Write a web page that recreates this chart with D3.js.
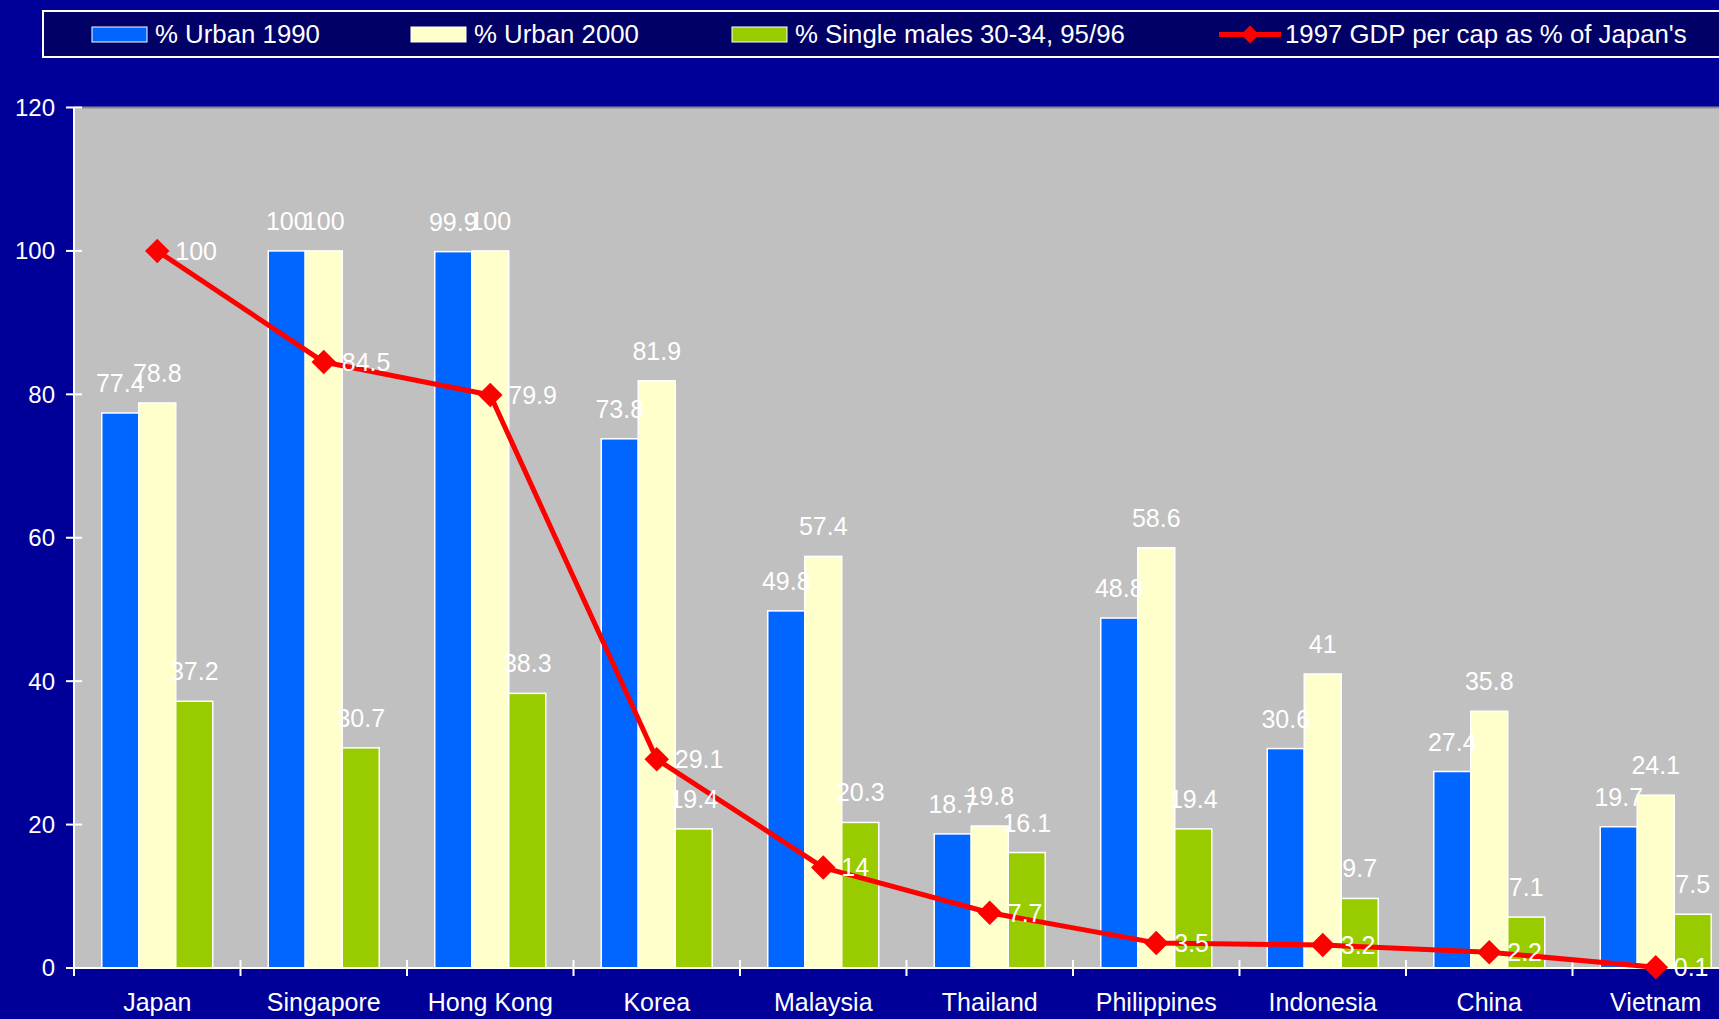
<!DOCTYPE html>
<html>
<head>
<meta charset="UTF-8">
<title>Urbanisation and GDP</title>
<script src="https://d3js.org/d3.v7.min.js"></script>
<style>
  body { margin: 0; padding: 0; overflow: hidden; background: #000099; }
  svg { display: block; font-family: "Liberation Sans", Arial, sans-serif; }
</style>
</head>
<body>
<svg id="chart" width="1719" height="1019"></svg>
<script>
// data
const countries = ["Japan", "Singapore", "Hong Kong", "Korea", "Malaysia", "Thailand", "Philippines", "Indonesia", "China", "Vietnam"];
const urban1990 = [77.4, 100, 99.9, 73.8, 49.8, 18.7, 48.8, 30.6, 27.4, 19.7];
const urban2000 = [78.8, 100, 100, 81.9, 57.4, 19.8, 58.6, 41, 35.8, 24.1];
const singleMales = [37.2, 30.7, 38.3, 19.4, 20.3, 16.1, 19.4, 9.7, 7.1, 7.5];
const gdpShare = [100, 84.5, 79.9, 29.1, 14, 7.7, 3.5, 3.2, 2.2, 0.1];
const yTicks = [0, 20, 40, 60, 80, 100, 120];

const barSeries = [
  { name: "% Urban 1990", values: urban1990, color: "#0066ff" },
  { name: "% Urban 2000", values: urban2000, color: "#ffffcc" },
  { name: "% Single males 30-34, 95/96", values: singleMales, color: "#99cc00" }
];
const lineName = "1997 GDP per cap as % of Japan's";

const svg = d3.select("#chart");
const plotL = 74, plotR = 1739, plotT = 107.5, plotB = 968;

const x = d3.scaleBand().domain(countries).range([plotL, plotR]).padding(0);
const bw = x.bandwidth();
const barW = bw / 4.5;
const inner = d3.scaleBand().domain(d3.range(3))
    .range([(bw - 3 * barW) / 2, (bw + 3 * barW) / 2]).padding(0);
const y = d3.scaleLinear().domain([0, 120]).range([plotB, plotT]);

// background
svg.append("rect").attr("width", 1719).attr("height", 1019).attr("fill", "#000099");

// plot area
svg.append("rect")
    .attr("x", plotL).attr("y", plotT)
    .attr("width", plotR - plotL).attr("height", plotB - plotT)
    .attr("fill", "#c0c0c0");
svg.append("line")
    .attr("x1", plotL).attr("x2", plotR).attr("y1", plotT).attr("y2", plotT)
    .attr("stroke", "#8a8a8a").attr("stroke-width", 2);

// bars
barSeries.forEach((s, si) => {
  svg.append("g").selectAll("rect")
    .data(countries)
    .join("rect")
      .attr("x", (c) => x(c) + inner(si))
      .attr("y", (c, i) => y(s.values[i]))
      .attr("width", inner.bandwidth())
      .attr("height", (c, i) => y(0) - y(s.values[i]))
      .attr("fill", s.color)
      .attr("stroke", "white")
      .attr("stroke-width", 1.5);
});

// axes
const yAxis = svg.append("g");
yAxis.append("line")
    .attr("x1", plotL).attr("x2", plotL).attr("y1", plotT).attr("y2", plotB)
    .attr("stroke", "white").attr("stroke-width", 2);
yAxis.selectAll("line.tk")
  .data(yTicks)
  .join("line")
    .attr("class", "tk")
    .attr("x1", plotL - 8).attr("x2", plotL + 8)
    .attr("y1", (d) => y(d)).attr("y2", (d) => y(d))
    .attr("stroke", "white").attr("stroke-width", 2);
yAxis.selectAll("text")
  .data(yTicks)
  .join("text")
    .attr("x", 55).attr("y", (d) => y(d)).attr("dy", "0.35em")
    .attr("text-anchor", "end").attr("fill", "white")
    .attr("font-size", 24)
    .text((d) => d);

const xAxis = svg.append("g");
xAxis.append("line")
    .attr("x1", plotL).attr("x2", plotR).attr("y1", plotB).attr("y2", plotB)
    .attr("stroke", "white").attr("stroke-width", 2);
xAxis.selectAll("line.tk")
  .data(d3.range(countries.length + 1))
  .join("line")
    .attr("class", "tk")
    .attr("x1", (i) => plotL + i * bw).attr("x2", (i) => plotL + i * bw)
    .attr("y1", plotB - 8).attr("y2", plotB + 8)
    .attr("stroke", "white").attr("stroke-width", 2);
xAxis.selectAll("text")
  .data(countries)
  .join("text")
    .attr("x", (c) => x(c) + bw / 2).attr("y", 1011)
    .attr("text-anchor", "middle").attr("fill", "white")
    .attr("font-size", 25)
    .text((c) => c);

// GDP line
const cx = (c) => x(c) + bw / 2;
const line = d3.line().x((d, i) => cx(countries[i])).y((d) => y(d));
svg.append("path")
    .datum(gdpShare)
    .attr("d", line)
    .attr("fill", "none")
    .attr("stroke", "#ff0000")
    .attr("stroke-width", 5)
    .attr("stroke-linejoin", "round");

svg.append("g").selectAll("path")
  .data(gdpShare)
  .join("path")
    .attr("d", d3.symbol().type(d3.symbolSquare).size(300))
    .attr("transform", (d, i) => `translate(${cx(countries[i])},${y(d)}) rotate(45)`)
    .attr("fill", "#ff0000");

// data labels
barSeries.forEach((s, si) => {
  svg.append("g").selectAll("text")
    .data(countries)
    .join("text")
      .attr("x", (c) => x(c) + inner(si) + inner.bandwidth() / 2)
      .attr("y", (c, i) => y(s.values[i]) - 21)
      .attr("text-anchor", "middle").attr("fill", "white")
      .attr("font-size", 25)
      .text((c, i) => s.values[i]);
});
svg.append("g").selectAll("text")
  .data(gdpShare)
  .join("text")
    .attr("x", (d, i) => cx(countries[i]) + 18)
    .attr("y", (d) => y(d)).attr("dy", "0.35em")
    .attr("fill", "white")
    .attr("font-size", 25)
    .text((d) => d);

// legend
const legend = svg.append("g");
legend.append("rect")
    .attr("x", 43).attr("y", 11).attr("width", 1720).attr("height", 46)
    .attr("fill", "#000066").attr("stroke", "white").attr("stroke-width", 2);
const legendX = [92, 411, 732];
barSeries.forEach((s, si) => {
  legend.append("rect")
      .attr("x", legendX[si]).attr("y", 27).attr("width", 55).attr("height", 15)
      .attr("fill", s.color).attr("stroke", "white").attr("stroke-width", 1);
  legend.append("text")
      .attr("x", legendX[si] + 63).attr("y", 43)
      .attr("fill", "white").attr("font-size", 25.8)
      .text(s.name);
});
legend.append("line")
    .attr("x1", 1219).attr("x2", 1281).attr("y1", 34.5).attr("y2", 34.5)
    .attr("stroke", "#ff0000").attr("stroke-width", 5);
legend.append("path")
    .attr("d", d3.symbol().type(d3.symbolSquare).size(160))
    .attr("transform", "translate(1250,34.5) rotate(45)")
    .attr("fill", "#ff0000");
legend.append("text")
    .attr("x", 1285).attr("y", 43)
    .attr("fill", "white").attr("font-size", 25.8)
    .text(lineName);
</script>
</body>
</html>
